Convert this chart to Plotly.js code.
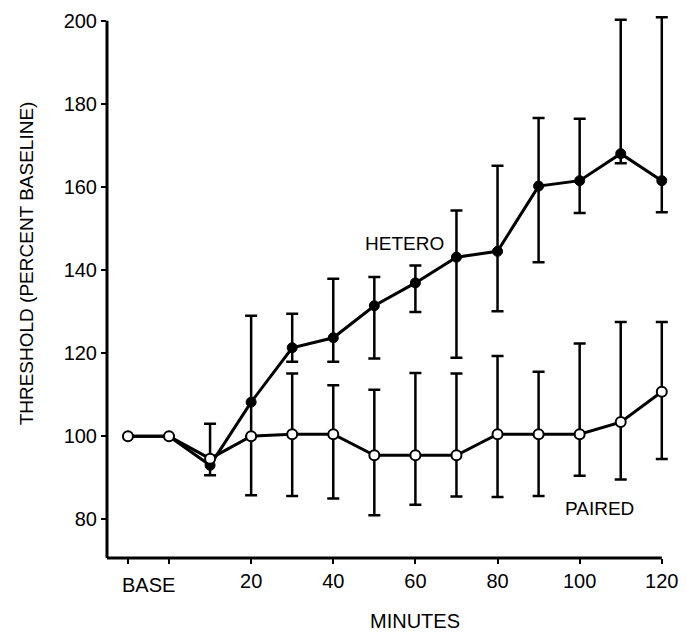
<!DOCTYPE html>
<html>
<head>
<meta charset="utf-8">
<script src="https://cdn.plot.ly/plotly-3.0.1.min.js"></script>
<style>
  html, body { margin: 0; padding: 0; background: #fff; }
  #chart { width: 686px; height: 633px; }
</style>
</head>
<body>
<div id="chart"></div>
<script>
// Minutes (BASE = two baseline samples at -10 and 0)
const minutes = [-10, 0, 10, 20, 30, 40, 50, 60, 70, 80, 90, 100, 110, 120];

// HETERO (filled circles)
const heteroMean  = [100, 100, 93.0, 108.2, 121.3, 123.7, 131.4, 136.9, 143.1, 144.5, 160.2, 161.5, 168.0, 161.5];
const heteroUpper = [null, null, 103.0, 129.0, 129.5, 137.9, 138.3, 141.1, 154.3, 165.1, 176.6, 176.4, 200.2, 200.8];
const heteroLower = [null, null, 90.6, 100.0, 117.9, 117.9, 118.7, 129.9, 118.9, 130.1, 141.9, 153.7, 165.7, 153.9];

// PAIRED (open circles)
const pairedMean  = [100, 100, 94.6, 100, 100.5, 100.5, 95.4, 95.4, 95.4, 100.5, 100.5, 100.5, 103.4, 110.7];
const pairedUpper = [null, null, null, 100, 115.1, 112.3, 111.2, 115.2, 115.1, 119.3, 115.5, 122.3, 127.5, 127.5];
const pairedLower = [null, null, null, 85.8, 85.6, 85.0, 81.0, 83.5, 85.5, 85.4, 85.6, 90.5, 89.6, 94.5];

// Axis ticks
const xTickVals = [-10, 0, 20, 40, 60, 80, 100, 120];
const xTickText = ['', '', '20', '40', '60', '80', '100', '120'];
const yTickVals = [80, 100, 120, 140, 160, 180, 200];

const X_MIN = -15.1, X_LINE_END = 120, X_MAX = 122;
const Y_MIN = 70.7, Y_LINE_END = 200, Y_MAX = 201.37;

function plus(mean, upper) { return mean.map((m, i) => upper[i] == null ? NaN : upper[i] - m); }
function minus(mean, lower) { return mean.map((m, i) => lower[i] == null ? NaN : m - lower[i]); }

const FONT = 'Liberation Sans, Arial, sans-serif';

function errTrace(mean, upper, lower) {
  return {
    x: minutes, y: mean, type: 'scatter', mode: 'markers',
    marker: { size: 1, opacity: 0 },
    hoverinfo: 'skip', showlegend: false, cliponaxis: false,
    error_y: {
      type: 'data', symmetric: false,
      array: plus(mean, upper), arrayminus: minus(mean, lower),
      color: '#000', thickness: 2.5, width: 6, visible: true
    }
  };
}

const data = [
  errTrace(heteroMean, heteroUpper, heteroLower),
  errTrace(pairedMean, pairedUpper, pairedLower),
  {
    x: minutes, y: heteroMean, type: 'scatter', mode: 'lines+markers', name: 'HETERO',
    line: { color: '#000', width: 3 }, cliponaxis: false,
    marker: { symbol: 'circle', size: 10, color: '#000', line: { color: '#000', width: 1 } },
    showlegend: false
  },
  {
    x: minutes, y: pairedMean, type: 'scatter', mode: 'lines+markers', name: 'PAIRED',
    line: { color: '#000', width: 3 }, cliponaxis: false,
    marker: { symbol: 'circle', size: 10, color: '#fff', line: { color: '#000', width: 2 } },
    showlegend: false
  }
];

const layout = {
  width: 686, height: 633,
  margin: { l: 107, r: 16, t: 15, b: 75 },
  paper_bgcolor: '#fff', plot_bgcolor: '#fff',
  font: { family: FONT, size: 20, color: '#000' },
  showlegend: false,
  xaxis: {
    range: [X_MIN, X_MAX],
    tickmode: 'array', tickvals: xTickVals, ticktext: xTickText,
    ticks: 'outside', ticklen: 5, tickwidth: 2, tickcolor: '#000',
    showline: false, showgrid: false, zeroline: false,
    tickfont: { family: FONT, size: 20, color: '#000' }
  },
  yaxis: {
    range: [Y_MIN, Y_MAX],
    tickmode: 'array', tickvals: yTickVals,
    ticks: 'outside', ticklen: 5, tickwidth: 2, tickcolor: '#000',
    showline: false, showgrid: false, zeroline: false,
    tickfont: { family: FONT, size: 20, color: '#000' }
  },
  shapes: [
    { type: 'line', xref: 'x', yref: 'paper', x0: X_MIN, x1: X_LINE_END, y0: 0, y1: 0,
      line: { color: '#000', width: 3 } },
    { type: 'line', xref: 'paper', yref: 'y', x0: 0, x1: 0, y0: Y_MIN, y1: Y_LINE_END,
      line: { color: '#000', width: 3 } }
  ],
  annotations: [
    { text: 'BASE', xref: 'x', yref: 'paper', x: -5, y: 0, yanchor: 'top', yshift: -14,
      showarrow: false, font: { family: FONT, size: 20, color: '#000' } },
    { text: 'MINUTES', xref: 'x', yref: 'paper', x: 60, y: 0, yanchor: 'middle', yshift: -63,
      showarrow: false, font: { family: FONT, size: 20, color: '#000' } },
    { text: 'THRESHOLD (PERCENT BASELINE)', xref: 'paper', yref: 'y', x: 0, xanchor: 'center', yanchor: 'middle',
      xshift: -81, y: 141.6,
      textangle: -90, showarrow: false, font: { family: FONT, size: 19, color: '#000' } },
    { text: 'HETERO', xref: 'x', yref: 'y', x: 57.3, y: 146.4,
      showarrow: false, font: { family: FONT, size: 19, color: '#000' } },
    { text: 'PAIRED', xref: 'x', yref: 'y', x: 104.9, y: 82.7,
      showarrow: false, font: { family: FONT, size: 19, color: '#000' } }
  ]
};

Plotly.newPlot('chart', data, layout, { displayModeBar: false, staticPlot: true });
</script>
</body>
</html>
